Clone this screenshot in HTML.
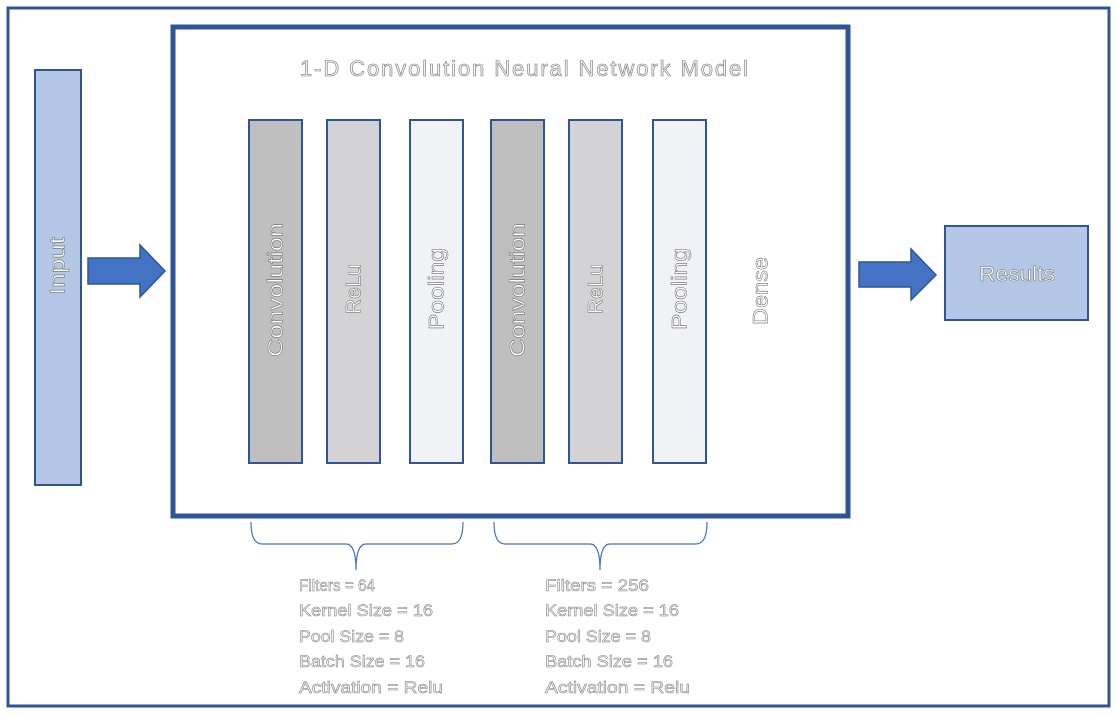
<!DOCTYPE html>
<html><head><meta charset="utf-8"><style>
html,body{margin:0;padding:0;background:#fff;}
svg{display:block;}
text{font-family:"Liberation Sans",sans-serif;}
</style></head><body>
<svg width="1118" height="716" viewBox="0 0 1118 716" xmlns="http://www.w3.org/2000/svg">
<rect width="1118" height="716" fill="#fff"/>
<rect x="8" y="8" width="1101" height="698" fill="none" stroke="#2f5597" stroke-width="3"/>
<rect x="173" y="27" width="675" height="489" fill="#fff" stroke="#2f5597" stroke-width="5"/>
<text x="300" y="76" textLength="448" lengthAdjust="spacing" font-size="22" fill="#f4f4f4" stroke="#777" stroke-width="0.6">1-D Convolution Neural Network Model</text>
<rect x="35" y="70" width="46" height="415" fill="#b4c7e7" stroke="#2f5597" stroke-width="2"/>
<text transform="translate(58,295) rotate(-90)" textLength="58" lengthAdjust="spacingAndGlyphs" dominant-baseline="central" font-size="21" fill="#fff" stroke="#666" stroke-width="0.5">Input</text>
<polygon points="88,258 140,258 140,245 165,271 140,297 140,284 88,284" fill="#4472c4" stroke="#2f5597" stroke-width="1.5"/>
<polygon points="859,262 911,262 911,249 936,275 911,300 911,287 859,287" fill="#4472c4" stroke="#2f5597" stroke-width="1.5"/>
<g stroke="#2f5597" stroke-width="2">
<rect x="249" y="120" width="53" height="343" fill="#bfbfbf"/>
<rect x="327" y="120" width="53" height="343" fill="#d3d3d6"/>
<rect x="410" y="120" width="53" height="343" fill="#f0f2f6"/>
<rect x="491" y="120" width="53" height="343" fill="#bfbfbf"/>
<rect x="569" y="120" width="53" height="343" fill="#d3d3d6"/>
<rect x="653" y="120" width="53" height="343" fill="#f0f2f6"/>
</g>
<g font-size="21" fill="#fff" stroke="#666" stroke-width="0.5" dominant-baseline="central" lengthAdjust="spacingAndGlyphs">
<text transform="translate(276,357) rotate(-90)" textLength="134" lengthAdjust="spacingAndGlyphs">Convolution</text>
<text transform="translate(354,314) rotate(-90)" textLength="50" lengthAdjust="spacingAndGlyphs">ReLu</text>
<text transform="translate(437,330) rotate(-90)" textLength="82" lengthAdjust="spacingAndGlyphs">Pooling</text>
<text transform="translate(518,357) rotate(-90)" textLength="134" lengthAdjust="spacingAndGlyphs">Convolution</text>
<text transform="translate(596,314) rotate(-90)" textLength="50" lengthAdjust="spacingAndGlyphs">ReLu</text>
<text transform="translate(680,330) rotate(-90)" textLength="82" lengthAdjust="spacingAndGlyphs">Pooling</text>
<text transform="translate(761,325) rotate(-90)" textLength="68" lengthAdjust="spacingAndGlyphs">Dense</text>
</g>
<rect x="945" y="226" width="143" height="94" fill="#b4c7e7" stroke="#2f5597" stroke-width="2"/>
<text x="979" y="281" textLength="76" lengthAdjust="spacingAndGlyphs" font-size="21" fill="#fff" stroke="#666" stroke-width="0.5">Results</text>
<g fill="none" stroke="#4472c4" stroke-width="1.2">
<path d="M251,522 Q251,544 262,544 L346,544 Q356,544 356,570 Q356,544 366,544 L452,544 Q463,544 463,522"/>
<path d="M494,522 Q494,544 505,544 L590,544 Q600,544 600,570 Q600,544 610,544 L696,544 Q707,544 707,522"/>
</g>
<g font-size="17" fill="#f4f4f4" stroke="#777" stroke-width="0.5">
<text x="299" y="591" textLength="76" lengthAdjust="spacingAndGlyphs">Filters = 64</text>
<text x="299" y="616" textLength="134" lengthAdjust="spacingAndGlyphs">Kernel Size = 16</text>
<text x="299" y="642" textLength="105" lengthAdjust="spacingAndGlyphs">Pool Size = 8</text>
<text x="299" y="667" textLength="126" lengthAdjust="spacingAndGlyphs">Batch Size = 16</text>
<text x="299" y="693" textLength="144" lengthAdjust="spacingAndGlyphs">Activation = Relu</text>
<text x="545" y="591" textLength="104" lengthAdjust="spacingAndGlyphs">Filters = 256</text>
<text x="545" y="616" textLength="134" lengthAdjust="spacingAndGlyphs">Kernel Size = 16</text>
<text x="545" y="642" textLength="106" lengthAdjust="spacingAndGlyphs">Pool Size = 8</text>
<text x="545" y="667" textLength="128" lengthAdjust="spacingAndGlyphs">Batch Size = 16</text>
<text x="545" y="693" textLength="145" lengthAdjust="spacingAndGlyphs">Activation = Relu</text>
</g>
</svg>
</body></html>
